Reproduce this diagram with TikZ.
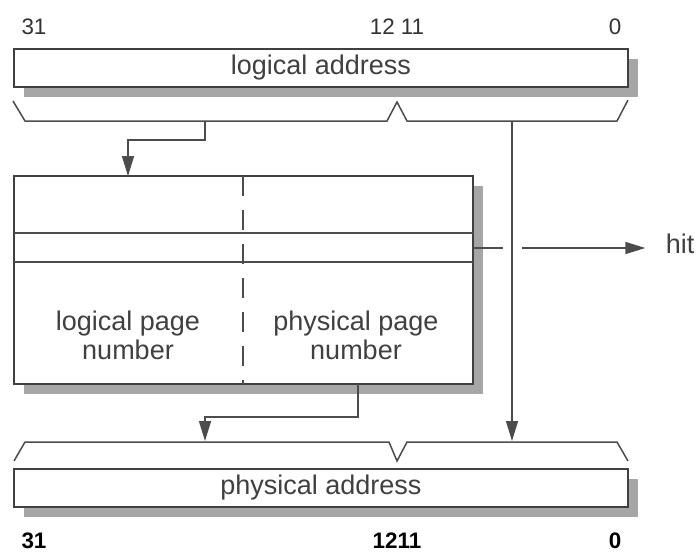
\documentclass[tikz,border=0pt]{standalone}
\usepackage{fontspec}
\setmainfont{Liberation Sans}
\usetikzlibrary{arrows.meta, shadows}

\begin{document}
\begin{tikzpicture}[x=0.5pt, y=-0.5pt,
  reg/.style={rectangle, draw=black!75, line width=1.4pt, fill=white, minimum width=307pt, minimum height=19pt, inner sep=0pt, text=black!75, font=\fontsize{13.5}{15}\selectfont, drop shadow={shadow xshift=5pt, shadow yshift=-5pt, fill=black!35, opacity=1}},
  tlb/.style={rectangle, draw=black!75, line width=1.4pt, fill=white, minimum width=229.5pt, minimum height=104pt, inner sep=0pt, drop shadow={shadow xshift=5pt, shadow yshift=-5pt, fill=black!35, opacity=1}},
  bits/.style={inner sep=0pt, text=black!80, font=\fontsize{11.2}{12}\selectfont},
  field/.style={inner sep=0pt, align=center, text=black!75, font=\fontsize{13.5}{14.5}\selectfont},
  wire/.style={draw=black!70, line width=0.75pt},
  arrow/.style={wire, -{Triangle[length=10pt, width=6pt]}}
]
  \useasboundingbox (0,0) rectangle (696,554);

  % logical address
  \node[bits] (l31) at (34,26.5) {31};
  \node[bits] (l1211) at (397,26.5) {12 11};
  \node[bits] (l0) at (615,26.5) {0};
  \node[reg] (la) at (321,68) {logical address};
  \draw[wire] (13,101) -- (25,121) -- (387,121) -- (397,102) -- (407,121) -- (617,121) -- (628,100);
  \coordinate (lpnsel) at (205,121);
  \coordinate (offsel) at (512,121);

  % TLB
  \node[tlb] (tlb) at (243.5,280) {};
  \draw[wire] (14,233) -- (473,233);
  \draw[wire] (14,262) -- (473,262);
  \draw[wire, dash pattern=on 10pt off 7pt] (243,176) -- (243,384);
  \node[field] (lpn) at (128,335) {logical page\\number};
  \node[field] (ppn) at (356,335) {physical page\\number};
  \node[field] (hit) at (680,244) {hit};
  \coordinate (tlbin) at (128,176);
  \coordinate (ppnout) at (358,384);
  \coordinate (hitout) at (473,248);
  \coordinate (hitgap) at (522,248);

  % physical address
  \coordinate (ppnin) at (205,441);
  \coordinate (offin) at (512,441);
  \draw[wire] (14,461) -- (25,442) -- (389,442) -- (397,461) -- (407,442) -- (617,442) -- (628,461);
  \node[reg] (pa) at (321,488) {physical address};
  \node[bits, text=black, font=\fontsize{11.2}{12}\selectfont\bfseries] (p31) at (34,541) {31};
  \node[bits, text=black, font=\fontsize{11.2}{12}\selectfont\bfseries] (p1211) at (397,541) {1211};
  \node[bits, text=black, font=\fontsize{11.2}{12}\selectfont\bfseries] (p0) at (615,541) {0};

  \draw[arrow] (lpnsel) -- ++(0,19) -| (tlbin);
  \draw[arrow] (offsel) -- (offin);
  \draw[arrow] (ppnout) -- ++(0,33) -| (ppnin);
  \draw[wire] (hitout) -- ++(30,0);
  \draw[arrow] (hitgap) -- ([xshift=-10pt]hit.west |- hitgap);
\end{tikzpicture}
\end{document}
